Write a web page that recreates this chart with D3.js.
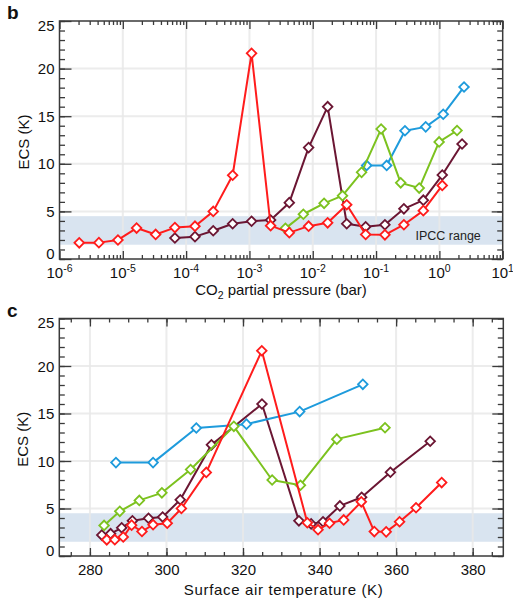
<!DOCTYPE html>
<html>
<head>
<meta charset="utf-8">
<script src="https://cdn.jsdelivr.net/npm/d3@7"></script>
<style>
  html, body { margin: 0; padding: 0; background: #fff; }
  svg { display: block; font-family: "Liberation Sans", Arial, Helvetica, sans-serif; }
</style>
</head>
<body>
<svg id="chart" width="513" height="606"></svg>
<script>
// ---------------- DATA ----------------
// Series: red, maroon, green, blue  (ECS in K)
const pco2Red = [2.05e-6, 4.19e-6, 8.38e-6, 1.65e-5, 3.3e-5, 6.65e-5, 1.38e-4, 2.68e-4, 5.43e-4, 1.08e-3,
                 2.16e-3, 4.26e-3, 8.6e-3, 1.72e-2, 3.44e-2, 6.85e-2, 0.138, 0.275, 0.557, 1.11];
const tempRed = [284.4, 286.5, 288.7, 290.9, 293.6, 296.5, 300.2, 303.9, 310.4, 324.9,
                 336.8, 339.6, 342.6, 346.3, 350.9, 354.3, 357.4, 360.9, 365.2, 371.9];
const ecsRed  = [1.7, 1.72, 2.0, 3.25, 2.58, 3.3, 3.45, 5.0, 8.8, 21.6,
                 3.5, 2.77, 3.45, 3.8, 5.7, 2.57, 2.54, 3.6, 5.08, 7.73];

const pco2Maroon = [6.65e-5, 1.38e-4, 2.68e-4, 5.43e-4, 1.08e-3, 2.16e-3, 4.26e-3, 8.6e-3,
                    1.72e-2, 3.44e-2, 6.85e-2, 0.138, 0.275, 0.557, 1.11, 2.28];
const tempMaroon = [283.1, 285.4, 288.3, 291.1, 295.3, 299.0, 303.6, 311.75,
                    324.95, 334.6, 337.8, 340.9, 345.3, 351.0, 358.5, 368.9];
const ecsMaroon  = [2.2, 2.35, 2.97, 3.7, 3.97, 4.1, 5.92, 11.7,
                    16.0, 3.7, 3.38, 3.6, 5.27, 6.18, 8.82, 12.08];

const pco2Green = [3.7e-3, 7.1e-3, 1.51e-2, 2.95e-2, 5.9e-2, 0.12, 0.245, 0.48, 0.99, 1.9];
const tempGreen = [283.7, 287.8, 292.9, 298.8, 306.3, 317.6, 327.6, 335.0, 344.5, 357.1];
const ecsGreen  = [3.22, 4.7, 5.85, 6.65, 9.1, 13.65, 8.0, 7.45, 12.3, 13.5];

const pco2Blue = [0.071, 0.147, 0.286, 0.608, 1.15, 2.45];
const tempBlue = [286.8, 296.5, 307.8, 320.9, 334.8, 351.3];
const ecsBlue  = [9.83, 9.83, 13.47, 13.88, 15.2, 18.07];

const seriesNames  = ["maroon", "blue", "green", "red"];   // drawing order
const seriesColors = ["#6b1633", "#1e9bdc", "#7cc21f", "#ff1c1c"];

const ipccRange = [1.5, 4.5];
const ecsTicks = [0, 5, 10, 15, 20, 25];
const pressureTicks = [1e-6, 1e-5, 1e-4, 1e-3, 1e-2, 1e-1, 1e0, 1e1];
const pressureExponents = ["-6", "-5", "-4", "-3", "-2", "-1", "0", "1"];
const tempTicks = [280, 300, 320, 340, 360, 380];

// ---------------- DRAW ----------------
const svg = d3.select("#chart");
const frameColor = "#3a3a3a";
const gridColor = "#e9e9e9";
const bandColor = "#d9e4f0";
const FS = 15;

const seriesTop = [
  {x: pco2Maroon, y: ecsMaroon}, {x: pco2Blue, y: ecsBlue},
  {x: pco2Green, y: ecsGreen}, {x: pco2Red, y: ecsRed}
];
const seriesBottom = [
  {x: tempMaroon, y: ecsMaroon}, {x: tempBlue, y: ecsBlue},
  {x: tempGreen, y: ecsGreen}, {x: tempRed, y: ecsRed}
];

function drawPanel(opt) {
  const {x, y, left, right, top, bottom} = opt;
  const g = svg.append("g");

  // band
  g.append("rect")
    .attr("x", left).attr("width", right - left)
    .attr("y", y(ipccRange[1])).attr("height", y(ipccRange[0]) - y(ipccRange[1]))
    .attr("fill", bandColor);

  // grid
  g.selectAll(".vg").data(opt.xMajor.filter(v => x(v) > left + 1 && x(v) < right - 1))
    .join("line")
    .attr("x1", d => x(d)).attr("x2", d => x(d))
    .attr("y1", top).attr("y2", bottom)
    .attr("stroke", gridColor).attr("stroke-width", 2).attr("opacity", 0.85);
  g.selectAll(".hg").data(ecsTicks.filter(v => v > 0 && v < 25))
    .join("line")
    .attr("x1", left).attr("x2", right)
    .attr("y1", d => y(d)).attr("y2", d => y(d))
    .attr("stroke", gridColor).attr("stroke-width", 2).attr("opacity", 0.85);

  // IPCC label
  if (opt.ipccLabel) {
    g.append("text")
      .attr("x", opt.ipccLabel[0]).attr("y", opt.ipccLabel[1])
      .attr("font-size", 12.5).attr("fill", "#222")
      .text("IPCC range");
  }

  // series
  const symbol = d3.symbol().type(d3.symbolSquare).size(46);
  opt.series.forEach((s, i) => {
    const pts = s.x.map((v, k) => [v, s.y[k]]);
    const sg = g.append("g");
    sg.append("path")
      .datum(pts)
      .attr("fill", "none")
      .attr("stroke", seriesColors[i])
      .attr("stroke-width", 2)
      .attr("stroke-linejoin", "round")
      .attr("d", d3.line().x(d => x(d[0])).y(d => y(d[1])));
    sg.selectAll("path.m").data(pts).join("path")
      .attr("class", "m")
      .attr("d", symbol)
      .attr("transform", d => `translate(${x(d[0])},${y(d[1])}) rotate(45)`)
      .attr("fill", "#fff")
      .attr("stroke", seriesColors[i])
      .attr("stroke-width", 1.8);
  });

  // axes (inward ticks)
  const axStyle = sel => {
    sel.select(".domain").remove();
    sel.selectAll("line").attr("stroke", frameColor).attr("stroke-width", 1.3);
    sel.selectAll("text").attr("fill", "#111").attr("font-size", FS).attr("font-family", null);
  };
  // left
  g.append("g").attr("transform", `translate(${left},0)`)
    .call(d3.axisLeft(y).tickValues(d3.range(0, 26, 1)).tickSize(-5.5).tickFormat(""))
    .call(axStyle);
  g.append("g").attr("transform", `translate(${left},0)`)
    .call(d3.axisLeft(y).tickValues(ecsTicks).tickSize(-12).tickPadding(5))
    .call(axStyle)
    .call(sel => sel.selectAll("text")
      .attr("dy", d => d === 0 ? "-0.05em" : d === 25 ? "0.62em" : "0.34em"));
  // right
  g.append("g").attr("transform", `translate(${right},0)`)
    .call(d3.axisRight(y).tickValues(d3.range(0, 26, 1)).tickSize(-5.5).tickFormat(""))
    .call(axStyle);
  g.append("g").attr("transform", `translate(${right},0)`)
    .call(d3.axisRight(y).tickValues(ecsTicks).tickSize(-11).tickFormat(""))
    .call(axStyle);
  // top
  g.append("g").attr("transform", `translate(0,${top})`)
    .call(d3.axisTop(x).tickValues(opt.xMinor).tickSize(-4).tickFormat(""))
    .call(axStyle);
  g.append("g").attr("transform", `translate(0,${top})`)
    .call(d3.axisTop(x).tickValues(opt.xMajor).tickSize(-8).tickFormat(""))
    .call(axStyle);
  // bottom
  g.append("g").attr("transform", `translate(0,${bottom})`)
    .call(d3.axisBottom(x).tickValues(opt.xMinor).tickSize(-4).tickFormat(""))
    .call(axStyle);
  g.append("g").attr("transform", `translate(0,${bottom})`)
    .call(d3.axisBottom(x).tickValues(opt.xMajor).tickSize(-8).tickPadding(8).tickFormat(opt.xFormat || ""))
    .call(axStyle);

  if (opt.xSuper) {
    opt.xMajor.forEach((v, k) => {
      const t = g.append("text")
        .attr("x", x(v)).attr("y", bottom + 19)
        .attr("text-anchor", "middle").attr("font-size", FS).attr("fill", "#111");
      t.append("tspan").text("10");
      t.append("tspan").attr("dy", -6).attr("font-size", 10.5).text(opt.xSuper[k]);
    });
  }

  // frame
  g.append("rect")
    .attr("x", left).attr("y", top)
    .attr("width", right - left).attr("height", bottom - top)
    .attr("fill", "none").attr("stroke", frameColor).attr("stroke-width", 1.5);

  // y title
  g.append("text")
    .attr("transform", `translate(${left - 31},${(top + bottom) / 2 + 2}) rotate(-90)`)
    .attr("text-anchor", "middle").attr("font-size", FS).attr("fill", "#111")
    .text("ECS (K)");

  // panel letter
  g.append("text")
    .attr("x", 7).attr("y", opt.letterY)
    .attr("font-size", 19).attr("font-weight", "bold").attr("fill", "#111")
    .text(opt.letter);

  return g;
}

// ---- panel b ----
const xLog = d3.scaleLog().domain([1e-6, 10]).range([59.5, 502.7]);
const yTop = d3.scaleLinear().domain([0, 25]).range([259, 21]);
const logMinor = [];
for (let e = -6; e < 1; e++) for (let m = 2; m <= 9; m++) logMinor.push(m * Math.pow(10, e));

const gb = drawPanel({
  x: xLog, y: yTop, left: 59.5, right: 502.7, top: 21, bottom: 259,
  xMajor: pressureTicks, xMinor: logMinor, xSuper: pressureExponents,
  series: seriesTop, ipccLabel: [415.5, 239.5], letter: "b", letterY: 19
});
{
  const t = gb.append("text")
    .attr("x", 281).attr("y", 295)
    .attr("text-anchor", "middle").attr("font-size", FS).attr("fill", "#111");
  t.append("tspan").text("CO");
  t.append("tspan").attr("dy", 4).attr("font-size", 10.5).text("2");
  t.append("tspan").attr("dy", -4).text(" partial pressure (bar)");
}

// ---- panel c ----
const xTemp = d3.scaleLinear().domain([272, 388]).range([59.3, 503.3]);
const yBot = d3.scaleLinear().domain([0, 25]).range([556, 318.5]);
const gc = drawPanel({
  x: xTemp, y: yBot, left: 59.3, right: 503.3, top: 318.5, bottom: 556,
  xMajor: tempTicks, xMinor: d3.range(275, 388, 5), xFormat: d3.format("d"),
  series: seriesBottom, ipccLabel: null, letter: "c", letterY: 317
});
gc.append("text")
  .attr("x", 283.3).attr("y", 594.5)
  .attr("text-anchor", "middle").attr("font-size", FS).attr("fill", "#111")
  .attr("textLength", 199).attr("lengthAdjust", "spacing")
  .text("Surface air temperature (K)");
</script>
</body>
</html>
